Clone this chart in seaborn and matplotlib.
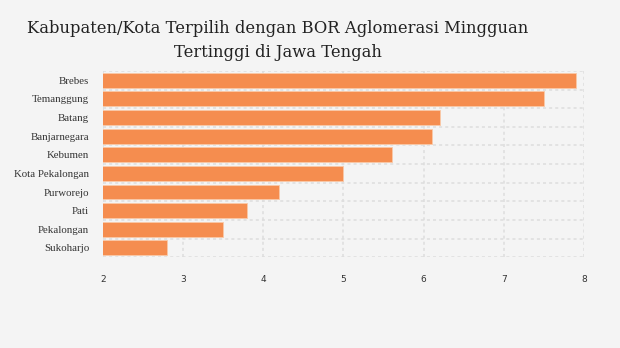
import matplotlib
matplotlib.use("Agg")
import matplotlib.pyplot as plt
import seaborn as sns
import pandas as pd
import numpy as np

# BOR aglomerasi mingguan per kabupaten/kota
regions = ["Brebes", "Temanggung", "Batang", "Banjarnegara", "Kebumen",
           "Kota Pekalongan", "Purworejo", "Pati", "Pekalongan", "Sukoharjo"]
bor = [7.9, 7.5, 6.2, 6.1, 5.6, 5.0, 4.2, 3.8, 3.5, 2.8]
x_ticks = [2, 3, 4, 5, 6, 7, 8]

df = pd.DataFrame({"region": regions, "bor": bor})

sns.set_theme(style="white")
bg = "#f4f4f4"
fig = plt.figure(figsize=(6.2, 3.48), dpi=100, facecolor=bg)
ax = fig.add_axes([0.166, 0.261, 0.776, 0.535])
ax.set_facecolor(bg)

sns.barplot(data=df, x="bor", y="region", orient="h", color="#f58d4f",
            saturation=1, width=0.8, edgecolor="#f9c9a8", linewidth=0.6, ax=ax)

ax.set_xlim(2, 8)
ax.set_ylim(len(regions) - 0.5, -0.5)
ax.set_xticks(x_ticks)
ax.set_xticklabels([str(t) for t in x_ticks])
ax.set_yticks(np.arange(-0.5, len(regions), 1.0), minor=True)

grid_kw = dict(color="#dddddd", linestyle=(0, (2, 2)), linewidth=1.1)
ax.grid(True, axis="x", which="major", **grid_kw)
ax.grid(True, axis="y", which="minor", **grid_kw)
ax.set_axisbelow(True)

for s in ax.spines.values():
    s.set_visible(False)

ax.set_xlabel("")
ax.set_ylabel("")
ax.tick_params(axis="y", which="major", length=4, width=1, color="#d0d0d0",
               pad=6, labelsize=7.8, labelcolor="#333333")
ax.tick_params(axis="y", which="minor", length=0)
ax.tick_params(axis="x", length=0, pad=13, labelsize=6.5, labelcolor="#333333")
for lbl in ax.get_yticklabels():
    lbl.set_family("Liberation Serif")

fig.text(0.448, 0.917, "Kabupaten/Kota Terpilih dengan BOR Aglomerasi Mingguan",
         ha="center", va="center", fontsize=11.8, family="DejaVu Serif",
         color="#222222")
fig.text(0.448, 0.848, "Tertinggi di Jawa Tengah",
         ha="center", va="center", fontsize=11.8, family="DejaVu Serif",
         color="#222222")

fig.savefig("out.png", dpi=100, facecolor=bg)
